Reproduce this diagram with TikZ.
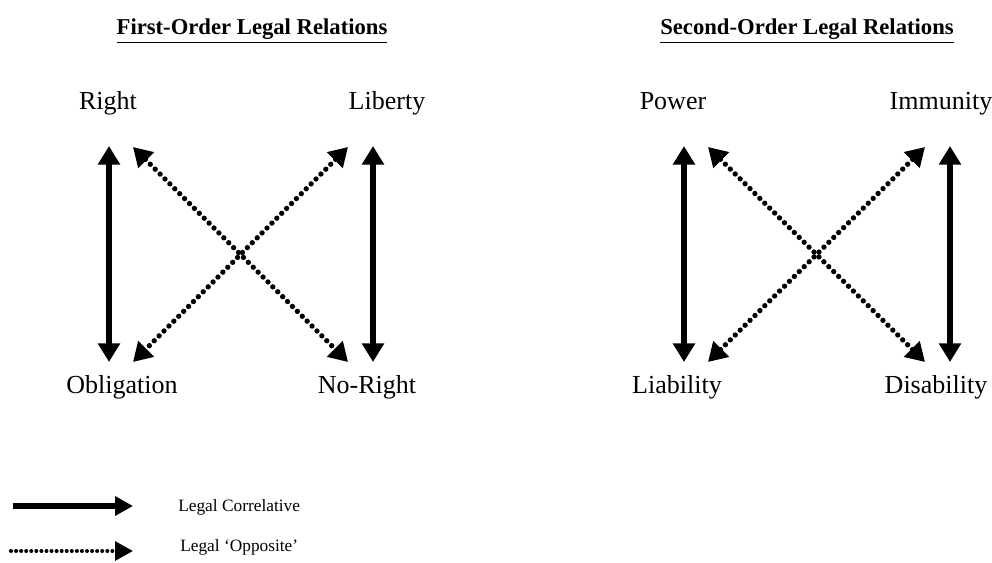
\documentclass[tikz,border=0pt]{standalone}
\usepackage{fontspec}
\setmainfont{Liberation Serif}
\usetikzlibrary{arrows.meta}
\begin{document}
\begin{tikzpicture}[x=0.75pt,y=-0.75pt,
  lbl/.style={font=\fontsize{19.5}{22}\selectfont, inner sep=0pt, anchor=base},
  head/.style={font=\bfseries\fontsize{17}{20}\selectfont, inner sep=0pt, anchor=base},
  leg/.style={font=\fontsize{13}{15}\selectfont, inner sep=0pt, anchor=west},
  corr/.style={line width=4.6pt, {Triangle[length=14pt,width=16pt]}-{Triangle[length=14pt,width=16pt]}},
  opp/.style={line width=4pt, line cap=round, dash pattern=on 0pt off 5.2pt, {Triangle[length=14pt,width=16pt]}-{Triangle[length=14pt,width=16pt]}},
  legcorr/.style={line width=3.8pt, -{Triangle[length=13.5pt,width=14pt]}},
  legopp/.style={line width=3pt, line cap=round, dash pattern=on 0pt off 3.8pt, -{Triangle[length=13.5pt,width=14pt]}},
]
\useasboundingbox (0,0) rectangle (992,563);

% headings
\node[head] (h1) at (252,35) {\underline{First-Order Legal Relations}};
\node[head] (h2) at (807,35) {\underline{Second-Order Legal Relations}};

% first-order labels
\node[lbl] (right) at (108,110) {Right};
\node[lbl] (liberty) at (387,110) {Liberty};
\node[lbl] (oblig) at (122,393) {Obligation};
\node[lbl] (noright) at (367,393) {No-Right};

% second-order labels
\node[lbl] (power) at (673,110) {Power};
\node[lbl] (immun) at (941,110) {Immunity};
\node[lbl] (liab) at (677,393) {Liability};
\node[lbl] (disab) at (936,393) {Disability};

% first-order arrow ends
\coordinate (a1) at (109,146);  \coordinate (a2) at (109,362);
\coordinate (b1) at (373,146);  \coordinate (b2) at (373,362);
\coordinate (c1) at (133,147);  \coordinate (c2) at (348,362);
\coordinate (d1) at (348,147);  \coordinate (d2) at (133,362);

\draw[corr] (a1) -- (a2);
\draw[corr] (b1) -- (b2);
\draw[opp] (c1) -- (c2);
\draw[opp] (d1) -- (d2);

% second-order arrow ends
\coordinate (e1) at (684,146);  \coordinate (e2) at (684,362);
\coordinate (f1) at (950,146);  \coordinate (f2) at (950,362);
\coordinate (g1) at (708,147);  \coordinate (g2) at (925,362);
\coordinate (k1) at (925,147);  \coordinate (k2) at (708,362);

\draw[corr] (e1) -- (e2);
\draw[corr] (f1) -- (f2);
\draw[opp] (g1) -- (g2);
\draw[opp] (k1) -- (k2);

% legend
\coordinate (l1s) at (13,506);  \coordinate (l1e) at (133,506);
\coordinate (l2s) at (11,551);  \coordinate (l2e) at (133,551);
\draw[legcorr] (l1s) -- (l1e);
\draw[legopp] (l2s) -- (l2e);
\node[leg] (t1) at (178,507) {Legal Correlative};
\node[leg] (t2) at (180,547) {Legal ‘Opposite’};
\end{tikzpicture}
\end{document}
